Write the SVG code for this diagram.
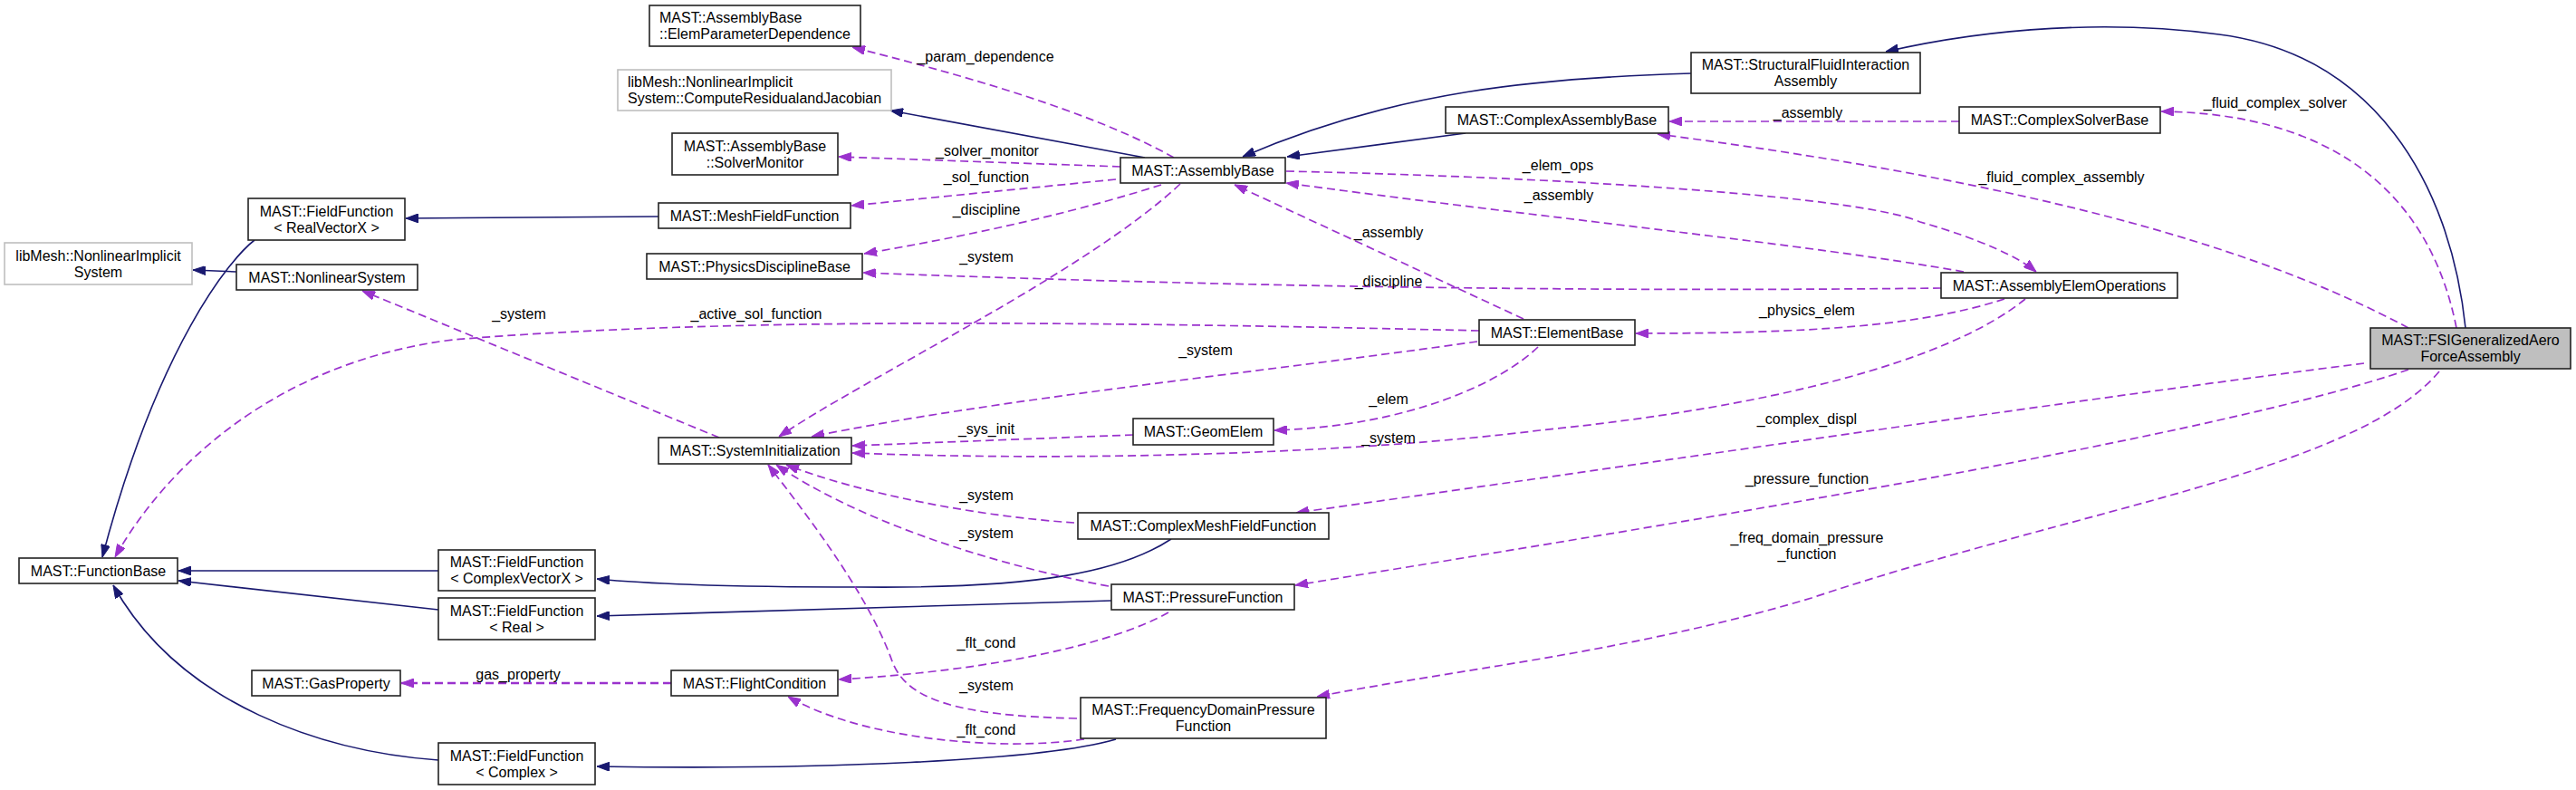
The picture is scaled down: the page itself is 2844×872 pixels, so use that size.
<svg xmlns="http://www.w3.org/2000/svg" width="2844" height="872" viewBox="0 0 2844 872">
<style>
.n rect{fill:#fff;stroke:#222;stroke-width:1.6}
.n.g rect{stroke:#bfbfbf}
.n.f rect{fill:#bfbfbf}
text{font-family:"Liberation Sans",Arial,Helvetica,sans-serif;font-size:16px;fill:#000}
.n text{text-anchor:middle}
.n text.l{text-anchor:start}
.lb{text-anchor:middle}
.inh{fill:none;stroke:#191970;stroke-width:1.6;marker-end:url(#ah)}
.use{fill:none;stroke:#9a32cd;stroke-width:1.7;stroke-dasharray:9,5;marker-end:url(#ap)}
</style>
<defs>
<marker id="ah" viewBox="0 0 14 10" refX="14" refY="5" markerWidth="14" markerHeight="10" markerUnits="userSpaceOnUse" orient="auto"><path d="M0,0 L14,5 L0,10 z" fill="#191970" stroke="#191970"/></marker>
<marker id="ap" viewBox="0 0 14 10" refX="14" refY="5" markerWidth="14" markerHeight="10" markerUnits="userSpaceOnUse" orient="auto"><path d="M0,0 L14,5 L0,10 z" fill="#9a32cd" stroke="#9a32cd"/></marker>
</defs>
<rect width="2844" height="872" fill="#fff"/>
<g id="edges">
<path class="inh" d="M281,265 C255,285 175,380 113,615"/>
<path class="inh" d="M261,300 L213,298"/>
<path class="inh" d="M727,239 L448,241"/>
<path class="inh" d="M1264,174 L983,122"/>
<path class="inh" d="M1867,81 C1700,86 1540,100 1372,173"/>
<path class="inh" d="M1618,147 L1421,173"/>
<path class="inh" d="M2722,362 C2705,200 2620,60 2450,38 C2330,22 2200,30 2082,57"/>
<path class="inh" d="M484,630 L197,630"/>
<path class="inh" d="M484,673 L197,641"/>
<path class="inh" d="M484,839 C360,830 200,780 125,646"/>
<path class="inh" d="M1293,595 C1240,630 1150,650 950,648 C830,648 720,645 659,639"/>
<path class="inh" d="M1227,663 L659,680"/>
<path class="inh" d="M1232,816 C1150,840 900,850 659,846"/>

<path class="use" d="M1296,174 C1200,120 1050,80 941,52"/>
<text class="lb" x="1088" y="68">_param_dependence</text>
<path class="use" d="M1237,184 L926,173"/>
<text class="lb" x="1090" y="172">_solver_monitor</text>
<path class="use" d="M1232,198 L940,227"/>
<text class="lb" x="1089" y="201">_sol_function</text>
<path class="use" d="M1282,204 C1200,230 1100,255 954,280"/>
<text class="lb" x="1089" y="237">_discipline</text>
<path class="use" d="M1303,203 C1200,300 950,420 860,482"/>
<text class="lb" x="1089" y="289">_system</text>
<path class="use" d="M2168,300 C2000,270 1700,240 1420,202"/>
<text class="lb" x="1721" y="221">_assembly</text>
<path class="use" d="M1420,189 C1700,195 2050,215 2120,245 C2190,265 2230,285 2248,300"/>
<text class="lb" x="1720" y="188">_elem_ops</text>
<path class="use" d="M1682,352 L1363,204"/>
<text class="lb" x="1533" y="262">_assembly</text>
<path class="use" d="M2143,318 C1800,322 1400,318 953,301"/>
<text class="lb" x="1533" y="316">_discipline</text>
<path class="use" d="M2213,330 C2120,360 2000,368 1806,368"/>
<text class="lb" x="1995" y="348">_physics_elem</text>
<path class="use" d="M2236,330 C2150,400 1950,450 1700,475 C1500,500 1200,510 941,500"/>
<text class="lb" x="1533" y="489">_system</text>
<path class="use" d="M1633,365 C1200,355 800,350 500,375 C300,400 180,520 127,615"/>
<text class="lb" x="835" y="352">_active_sol_function</text>
<path class="use" d="M794,483 L400,321"/>
<text class="lb" x="573" y="352">_system</text>
<path class="use" d="M1631,377 C1400,410 1100,440 896,482"/>
<text class="lb" x="1331" y="392">_system</text>
<path class="use" d="M1698,383 C1660,420 1560,470 1407,475"/>
<text class="lb" x="1533" y="446">_elem</text>
<path class="use" d="M1251,480 L941,492"/>
<text class="lb" x="1089" y="479">_sys_init</text>
<path class="use" d="M1186,577 C1080,570 950,545 868,513"/>
<text class="lb" x="1089" y="552">_system</text>
<path class="use" d="M1224,647 C1080,620 940,570 857,513"/>
<text class="lb" x="1089" y="594">_system</text>
<path class="use" d="M1189,793 C1050,790 1000,770 985,730 C960,660 900,580 848,513"/>
<text class="lb" x="1089" y="762">_system</text>
<path class="use" d="M1290,676 C1230,710 1100,740 926,750"/>
<text class="lb" x="1089" y="715">_flt_cond</text>
<path class="use" d="M1197,816 C1100,830 950,815 870,769"/>
<text class="lb" x="1089" y="811">_flt_cond</text>
<path class="use" style="stroke-width:2.3" d="M741,754 L443,754"/>
<text class="lb" x="572" y="750">gas_property</text>
<path class="use" d="M2163,134 L1843,134"/>
<text class="lb" x="1996" y="130">_assembly</text>
<path class="use" d="M2712,362 C2680,200 2560,125 2386,123"/>
<text class="lb" x="2512" y="119">_fluid_complex_solver</text>
<path class="use" d="M2659,362 C2450,250 2150,190 1830,148"/>
<text class="lb" x="2276" y="201">_fluid_complex_assembly</text>
<path class="use" d="M2610,401 C2300,440 1900,500 1431,566"/>
<text class="lb" x="1995" y="468">_complex_displ</text>
<path class="use" d="M2659,408 C2450,480 1900,570 1430,646"/>
<text class="lb" x="1995" y="534">_pressure_function</text>
<path class="use" d="M2693,410 C2600,520 2300,560 2000,660 C1800,720 1600,740 1454,769"/>
<text class="lb" x="1995" y="599">_freq_domain_pressure</text>
<text class="lb" x="1995" y="617">_function</text>
</g>

<g id="ElemParameterDependence" class="n"><rect x="717" y="6" width="233" height="45"/><text class="l" x="728" y="25">MAST::AssemblyBase</text><text class="l" x="728" y="43">::ElemParameterDependence</text></g>
<g id="ComputeResidualandJacobian" class="n g"><rect x="682" y="77" width="302" height="45"/><text class="l" x="693" y="96">libMesh::NonlinearImplicit</text><text class="l" x="693" y="114">System::ComputeResidualandJacobian</text></g>
<g id="SolverMonitor" class="n"><rect x="742" y="147" width="183" height="46"/><text x="833.5" y="166.5">MAST::AssemblyBase</text><text x="833.5" y="184.5">::SolverMonitor</text></g>
<g id="FieldFunctionRealVectorX" class="n"><rect x="274" y="219" width="173" height="46"/><text x="360.5" y="238.5">MAST::FieldFunction</text><text x="360.5" y="256.5">&lt; RealVectorX &gt;</text></g>
<g id="MeshFieldFunction" class="n"><rect x="727" y="224" width="212" height="28"/><text x="833" y="243.5">MAST::MeshFieldFunction</text></g>
<g id="NonlinearImplicitSystem" class="n g"><rect x="5" y="268" width="207" height="46"/><text x="108.5" y="287.5">libMesh::NonlinearImplicit</text><text x="108.5" y="305.5">System</text></g>
<g id="NonlinearSystem" class="n"><rect x="261" y="292" width="200" height="28"/><text x="361" y="311.5">MAST::NonlinearSystem</text></g>
<g id="PhysicsDisciplineBase" class="n"><rect x="714" y="280" width="238" height="28"/><text x="833" y="299.5">MAST::PhysicsDisciplineBase</text></g>
<g id="AssemblyBase" class="n"><rect x="1237" y="174" width="182" height="28"/><text x="1328" y="193.5">MAST::AssemblyBase</text></g>
<g id="StructuralFluidInteractionAssembly" class="n"><rect x="1867" y="58" width="253" height="45"/><text x="1993.5" y="77">MAST::StructuralFluidInteraction</text><text x="1993.5" y="95">Assembly</text></g>
<g id="ComplexAssemblyBase" class="n"><rect x="1596" y="118" width="246" height="29"/><text x="1719" y="138">MAST::ComplexAssemblyBase</text></g>
<g id="ComplexSolverBase" class="n"><rect x="2163" y="118" width="222" height="29"/><text x="2274" y="138">MAST::ComplexSolverBase</text></g>
<g id="AssemblyElemOperations" class="n"><rect x="2143" y="301" width="261" height="28"/><text x="2273.5" y="320.5">MAST::AssemblyElemOperations</text></g>
<g id="ElementBase" class="n"><rect x="1633" y="353" width="172" height="28"/><text x="1719" y="372.5">MAST::ElementBase</text></g>
<g id="FSIGeneralizedAeroForceAssembly" class="n f"><rect x="2617" y="362" width="221" height="45"/><text x="2727.5" y="381">MAST::FSIGeneralizedAero</text><text x="2727.5" y="399">ForceAssembly</text></g>
<g id="SystemInitialization" class="n"><rect x="727" y="483" width="213" height="29"/><text x="833.5" y="503">MAST::SystemInitialization</text></g>
<g id="GeomElem" class="n"><rect x="1251" y="462" width="155" height="29"/><text x="1328.5" y="482">MAST::GeomElem</text></g>
<g id="ComplexMeshFieldFunction" class="n"><rect x="1190" y="566" width="277" height="29"/><text x="1328.5" y="586">MAST::ComplexMeshFieldFunction</text></g>
<g id="FunctionBase" class="n"><rect x="21" y="616" width="175" height="28"/><text x="108.5" y="635.5">MAST::FunctionBase</text></g>
<g id="FieldFunctionComplexVectorX" class="n"><rect x="484" y="607" width="173" height="45"/><text x="570.5" y="626">MAST::FieldFunction</text><text x="570.5" y="644">&lt; ComplexVectorX &gt;</text></g>
<g id="FieldFunctionReal" class="n"><rect x="484" y="660" width="173" height="46"/><text x="570.5" y="679.5">MAST::FieldFunction</text><text x="570.5" y="697.5">&lt; Real &gt;</text></g>
<g id="PressureFunction" class="n"><rect x="1227" y="645" width="202" height="28"/><text x="1328" y="664.5">MAST::PressureFunction</text></g>
<g id="GasProperty" class="n"><rect x="278" y="740" width="164" height="28"/><text x="360" y="759.5">MAST::GasProperty</text></g>
<g id="FlightCondition" class="n"><rect x="741" y="740" width="184" height="28"/><text x="833" y="759.5">MAST::FlightCondition</text></g>
<g id="FrequencyDomainPressureFunction" class="n"><rect x="1193" y="770" width="271" height="45"/><text x="1328.5" y="789">MAST::FrequencyDomainPressure</text><text x="1328.5" y="807">Function</text></g>
<g id="FieldFunctionComplex" class="n"><rect x="484" y="820" width="173" height="46"/><text x="570.5" y="839.5">MAST::FieldFunction</text><text x="570.5" y="857.5">&lt; Complex &gt;</text></g>
</svg>
